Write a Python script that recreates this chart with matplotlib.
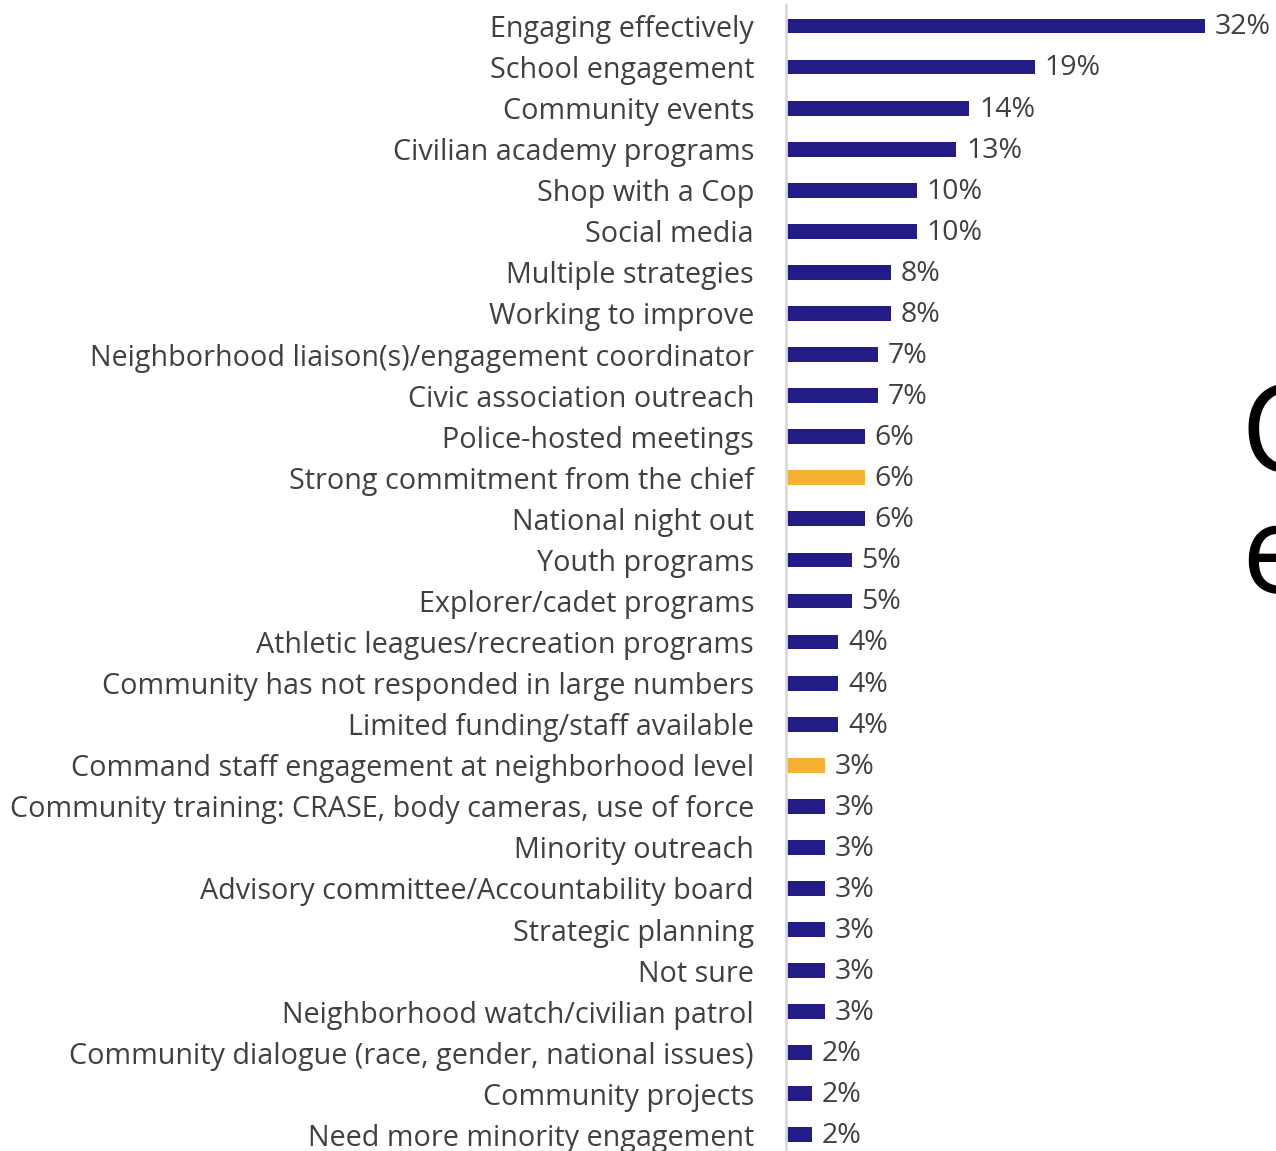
import numpy as np
import matplotlib.pyplot as plt

categories = [
    "Engaging effectively",
    "School engagement",
    "Community events",
    "Civilian academy programs",
    "Shop with a Cop",
    "Social media",
    "Multiple strategies",
    "Working to improve",
    "Neighborhood liaison(s)/engagement coordinator",
    "Civic association outreach",
    "Police-hosted meetings",
    "Strong commitment from the chief",
    "National night out",
    "Youth programs",
    "Explorer/cadet programs",
    "Athletic leagues/recreation programs",
    "Community has not responded in large numbers",
    "Limited funding/staff available",
    "Command staff engagement at neighborhood level",
    "Community training: CRASE, body cameras, use of force",
    "Minority outreach",
    "Advisory committee/Accountability board",
    "Strategic planning",
    "Not sure",
    "Neighborhood watch/civilian patrol",
    "Community dialogue (race, gender, national issues)",
    "Community projects",
    "Need more minority engagement",
]
values = [32, 19, 14, 13, 10, 10, 8, 8, 7, 7, 6, 6, 6, 5, 5, 4, 4, 4,
          3, 3, 3, 3, 3, 3, 3, 2, 2, 2]
highlight = ["Strong commitment from the chief",
             "Command staff engagement at neighborhood level"]

navy = "#231C87"
gold = "#F4B133"
grey = "#404040"

plt.rcParams['font.family'] = ['Open Sans', 'DejaVu Sans']

fig = plt.figure(figsize=(12.76, 11.51), dpi=100)
W, H = 1276, 1151
ax = fig.add_axes([786 / W, 0, 1 - 786 / W, 1])

y = np.arange(len(categories))
colors = [gold if c in highlight else navy for c in categories]
bars = ax.barh(y, values, height=0.36, color=colors)

ax.set_xlim(0, (W - 786) / 13.1)
row = 41.07
ax.set_ylim((H - 26) / row, -26 / row)

ax.set_yticks(y)
ax.set_yticklabels(categories, fontsize=20.7, color=grey)
ax.tick_params(axis='y', length=0, pad=23)
ax.set_xticks([])

for s in ['top', 'right', 'bottom']:
    ax.spines[s].set_visible(False)
ax.spines['left'].set_color('#D9D9D9')
ax.spines['left'].set_linewidth(2)
ax.spines['left'].set_bounds(len(categories) - 0.6, -0.5)

for b, v in zip(bars, values):
    ax.annotate(f"{v}%", (b.get_width(), b.get_y() + b.get_height() / 2),
                xytext=(7, -1), textcoords='offset points',
                va='center', ha='left', fontsize=20.5, color=grey)

# slide title running off the right edge
fig.text(1241 / W, 1 - 500 / H, "C\ne", fontsize=88, color='black',
         va='center', ha='left', linespacing=0.98, family='Open Sans')

fig.savefig("out.png", dpi=100)
